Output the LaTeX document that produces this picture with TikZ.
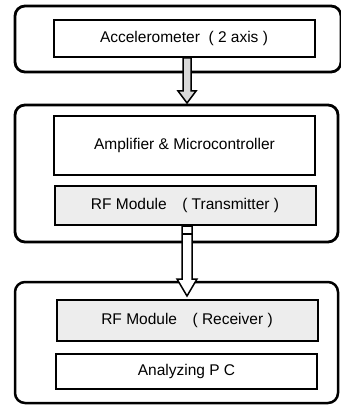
\documentclass[tikz,border=0pt]{standalone}
\usepackage{fontspec}
\setmainfont{Liberation Sans}
\usepackage{tikz}
\usetikzlibrary{arrows}

\begin{document}
\begin{tikzpicture}[x=1pt,y=-1pt,semithick]
   \tikzstyle{every node}=[font=\fontsize{15.5}{18}\selectfont]
   \tikzstyle{group}=[draw,line width=2.8pt,rounded corners=10pt,inner sep=0pt]
   \tikzstyle{block}=[draw,line width=2pt,fill=white,inner sep=0pt,minimum width=261pt]
   \tikzstyle{rfblock}=[block,fill=black!7]
   \tikzstyle{bigarrow}=[draw,line width=1.5pt,line join=miter]
   \useasboundingbox (0,0) rectangle (340,406);

   % the three units
   \node[group,minimum width=326pt,minimum height=66pt]   (sensor)  at (178,39)    {};
   \node[group,minimum width=323pt,minimum height=137pt]  (sender)  at (176.5,173.5) {};
   \node[group,minimum width=323pt,minimum height=121pt,line width=2.5pt]  (base)  at (176.5,342.5) {};

   \node[block,minimum height=37pt]     (acc)  at (184,38.5)    {Accelerometer~ (~2 axis~)};
   \node[block,minimum height=59pt]     (amp)  at (184.5,145.5) {Amplifier \& Microcontroller};
   \node[rfblock,minimum height=39pt]   (tx)   at (185,205.5)   {RF Module\quad( Transmitter )};
   \node[rfblock,minimum height=41pt]   (rx)   at (187,320.5)   {RF Module\quad( Receiver )};
   \node[block,minimum height=35pt]     (pc)   at (186.5,371.5) {Analyzing P C};

   % links between the units
   \path[bigarrow,fill=black!15] (acc.south) ++(-1,0) -- ++(0,33) -- ++(-5,0) -- ++(9,12)
      -- ++(9,-12) -- ++(-5,0) -- ++(0,-33) -- cycle;
   \path[bigarrow,fill=white] (tx.south) ++(-3,0) -- ++(0,53) -- ++(-5,0) -- ++(10,17)
      -- ++(10,-17) -- ++(-5,0) -- ++(0,-53) -- cycle;
   \draw[line width=1.5pt] (tx.south) ++(-3,8) -- ++(10,0);
\end{tikzpicture}
\end{document}
